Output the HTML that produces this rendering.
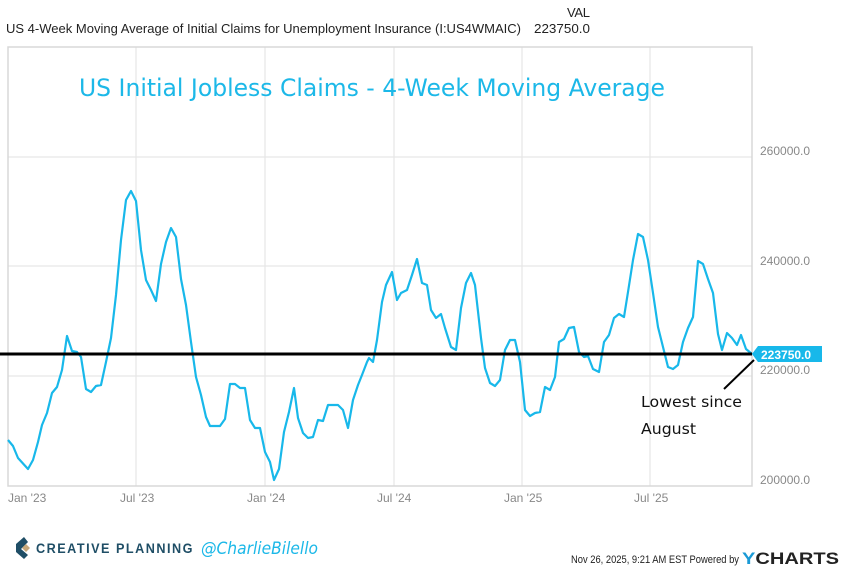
<!DOCTYPE html>
<html><head><meta charset="utf-8"><style>
body{margin:0;background:#fff;width:841px;height:567px;overflow:hidden;font-family:"Liberation Sans",sans-serif}
</style></head><body>
<svg width="841" height="567" viewBox="0 0 841 567" xmlns="http://www.w3.org/2000/svg" font-family="Liberation Sans, sans-serif">
<text x="567" y="17" font-size="13" fill="#222" textLength="23">VAL</text>
<text x="6" y="33" font-size="13" fill="#222" textLength="515" lengthAdjust="spacingAndGlyphs">US 4-Week Moving Average of Initial Claims for Unemployment Insurance (I:US4WMAIC)</text>
<text x="534" y="33" font-size="13" fill="#222" textLength="56" lengthAdjust="spacingAndGlyphs">223750.0</text>
<g stroke="#e6e6e6" stroke-width="1.2">
<line x1="8" y1="157" x2="752" y2="157"/><line x1="8" y1="266" x2="752" y2="266"/><line x1="8" y1="376" x2="752" y2="376"/>
<line x1="136" y1="47" x2="136" y2="486"/><line x1="265" y1="47" x2="265" y2="486"/><line x1="394" y1="47" x2="394" y2="486"/><line x1="522" y1="47" x2="522" y2="486"/><line x1="650" y1="47" x2="650" y2="486"/>
</g>
<rect x="8" y="47" width="744" height="439" fill="none" stroke="#d8d8d8" stroke-width="1.5"/>
<g font-size="12" fill="#888">
<text x="760" y="155">260000.0</text><text x="760" y="265">240000.0</text><text x="760" y="374">220000.0</text><text x="760" y="484">200000.0</text>
<text x="8" y="502">Jan '23</text><text x="120" y="502">Jul '23</text><text x="247" y="502">Jan '24</text><text x="377" y="502">Jul '24</text><text x="504" y="502">Jan '25</text><text x="634" y="502">Jul '25</text>
</g>
<text x="79" y="96" font-size="24" fill="#1cb8e8" font-family="DejaVu Sans, sans-serif" textLength="586" lengthAdjust="spacingAndGlyphs">US Initial Jobless Claims - 4-Week Moving Average</text>
<polyline fill="none" stroke="#18b8ea" stroke-width="2.2" stroke-linejoin="round" points="8,440 13,446 18,458 28,469 33,460 38,442 42,425 47,413 52,393 57,387 62,370 67,336 72,351 77,352 81,357 86,389 91,392 96,386 101,385 106,362 111,338 116,295 121,240 126,200 131,191 136,201 141,250 146,280 151,290 156,301 161,264 166,242 171,228 176,237 181,279 186,305 191,342 196,377 201,395 206,417 210,426 220,426 225,419 230,384 235,384 240,388 245,388 250,420 255,428 260,428 265,452 270,462 274,480 279,469 284,432 289,412 294,388 298,418 303,433 308,438 313,437 318,420 323,421 328,405 338,405 343,410 348,428 353,400 358,385 362,375 367,362 369,358 373,362 377,340 382,302 386,285 392,272 397,300 401,293 407,290 412,275 417,259 422,283 427,285 431,310 436,318 441,314 445,328 451,347 456,350 461,308 466,283 471,273 475,285 481,338 485,368 490,383 495,386 500,380 505,350 510,340 515,340 520,362 525,410 530,416 535,413 540,412 545,387 550,390 555,377 559,342 564,339 569,328 574,327 579,352 584,357 588,356 593,369 599,372 604,342 609,335 614,318 619,314 624,317 628,292 633,260 638,234 643,237 648,260 653,293 658,327 663,347 668,367 673,369 678,365 683,342 688,328 693,317 698,261 703,264 708,279 713,293 718,334 722,350 727,333 732,338 737,345 741,335 746,349 752,354"/>
<line x1="0" y1="354" x2="752" y2="354" stroke="#000" stroke-width="3"/>
<polygon points="752,354 758,346 822,346 822,362 758,362" fill="#18b8ea"/>
<text x="761" y="359" font-size="12" font-weight="bold" fill="#fff">223750.0</text>
<line x1="724" y1="389" x2="754" y2="360" stroke="#000" stroke-width="2"/>
<text x="641" y="407" font-size="15" fill="#111" font-family="DejaVu Sans, sans-serif" textLength="101" lengthAdjust="spacingAndGlyphs">Lowest since</text>
<text x="641" y="434" font-size="15" fill="#111" font-family="DejaVu Sans, sans-serif" textLength="55" lengthAdjust="spacingAndGlyphs">August</text>
<path d="M24,537 L16,544 L16,552 L24,559 L28,555 L21,549 L28,542 Z" fill="#1f4e66"/>
<polygon points="22,548 26,544 30,548 26,552" fill="#c7a87a"/>
<text x="36" y="553" font-size="13.5" font-weight="bold" fill="#1f4e66" letter-spacing="1.6" textLength="158" lengthAdjust="spacingAndGlyphs">CREATIVE PLANNING</text>
<text x="201" y="554" font-size="17" fill="#1cb8e8" font-family="DejaVu Sans, sans-serif" font-style="italic" textLength="117" lengthAdjust="spacingAndGlyphs">@CharlieBilello</text>
<text x="571" y="563" font-size="11" fill="#222" textLength="168" lengthAdjust="spacingAndGlyphs">Nov 26, 2025, 9:21 AM EST Powered by</text>
<text x="742" y="564" font-size="17" font-weight="bold" fill="#222" textLength="97" lengthAdjust="spacingAndGlyphs"><tspan fill="#1a9ad6">Y</tspan>CHARTS</text>
</svg>
</body></html>
